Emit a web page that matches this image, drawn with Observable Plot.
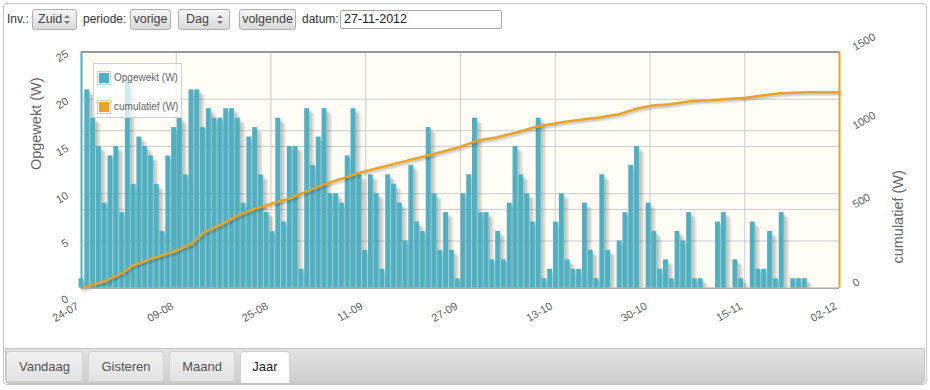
<!DOCTYPE html>
<html><head><meta charset="utf-8">
<script src="https://cdn.jsdelivr.net/npm/d3@7"></script>
<script src="https://cdn.jsdelivr.net/npm/@observablehq/plot@0.6"></script>
<style>
html,body{margin:0;padding:0;background:#fff;width:930px;height:390px;overflow:hidden;font-family:"Liberation Sans",Arial,sans-serif;}
#wrap{position:absolute;left:3px;top:3px;width:924px;height:382px;border:1px solid #c6c6c6;border-radius:4px;box-sizing:border-box;}
.lbl{position:absolute;top:11px;font-size:12px;color:#333;line-height:16px;white-space:nowrap;}
.btn{position:absolute;top:9px;height:21px;box-sizing:border-box;border:1px solid #b0b0b0;border-radius:3px;background:linear-gradient(#f7f7f7,#dadada);font-size:12.5px;color:#444;line-height:19px;text-align:center;white-space:nowrap;}
.sel{text-align:left;padding-left:5px;}
.arr{position:absolute;right:6px;top:5px;width:0;height:0;border-left:3px solid transparent;border-right:3px solid transparent;border-bottom:3px solid #777;}
.arr2{position:absolute;right:6px;top:11px;width:0;height:0;border-left:3px solid transparent;border-right:3px solid transparent;border-top:3px solid #777;}
.inp{position:absolute;top:10px;left:340px;width:162px;height:19px;box-sizing:border-box;border:1px solid #a8a8a8;border-radius:2px;background:#fff;font-size:12.5px;color:#222;line-height:17px;padding-left:3px;}
#chart{position:absolute;left:0;top:30px;}
#legend{position:absolute;left:93px;top:63px;width:89px;height:55px;box-sizing:border-box;border:1px solid #d0d0d0;background:rgba(255,255,255,0.72);}
.li{position:absolute;left:3px;height:14px;font-size:10px;color:#666;line-height:14px;white-space:nowrap;}
.sw{display:inline-block;vertical-align:top;width:10px;height:10px;border:1px solid #ccc;padding:1px;margin-right:3px;}
.sw div{width:10px;height:10px;}
#tabbar{position:absolute;left:5px;top:348px;width:920px;height:36px;box-sizing:border-box;border:1px solid #c4c4c4;border-radius:0 0 4px 4px;background:linear-gradient(#e2e2e2,#cdcdcd);}
.tab{position:absolute;top:2px;height:30px;box-sizing:border-box;border:1px solid #d2d2d2;border-bottom:none;border-radius:4px 4px 0 0;background:linear-gradient(#f0f0f0,#e2e2e2);font-size:13px;color:#555;text-align:center;line-height:29px;}
.tab.on{background:#fff;color:#222;height:32px;}
</style>
</head><body>
<div id="wrap"></div>
<div class="lbl" style="left:7px">Inv.:</div>
<div class="btn sel" style="left:32px;width:45px">Zuid<div class="arr"></div><div class="arr2"></div></div>
<div class="lbl" style="left:83px">periode:</div>
<div class="btn" style="left:130px;width:41px">vorige</div>
<div class="btn sel" style="left:178px;width:52px;padding-left:7px">Dag<div class="arr"></div><div class="arr2"></div></div>
<div class="btn" style="left:239px;width:57px">volgende</div>
<div class="lbl" style="left:302px">datum:</div>
<div class="inp">27-11-2012</div>
<div id="chart"></div>
<div id="legend">
  <div class="li" style="top:7px"><span class="sw"><div style="background:#4bb2c5"></div></span>Opgewekt (W)</div>
  <div class="li" style="top:36px"><span class="sw"><div style="background:#EAA228"></div></span>cumulatief (W)</div>
</div>
<div id="tabbar">
  <div class="tab" style="left:0px;width:77px">Vandaag</div>
  <div class="tab" style="left:82px;width:76px">Gisteren</div>
  <div class="tab" style="left:163px;width:66px">Maand</div>
  <div class="tab on" style="left:234px;width:50px">Jaar</div>
</div>
<script>
// ---- data ----
const startDate = "2012-07-24";
// daily "Opgewekt (W)" bars, one per day from 24-07
const dailyValues = [
  1,21,18,15,9,14,15,8,22,11,
  16,15,14,11,6,14,17,18,12,21,
  21,17,19,18,18,19,19,18,9,16,
  17,12,8,6,18,7,15,15,2,19,
  13,16,19,10,10,9,14,19,12,4,
  12,10,2,12,11,9,5,13,7,6,
  17,10,4,8,4,1,10,12,18,8,
  8,3,6,3,9,15,12,10,7,18,
  1,2,7,10,3,2,2,9,4,1,
  12,4,0,5,8,13,15,0,9,6,
  2,3,1,6,5,8,1,1,0,0,
  7,8,0,3,1,0,7,2,2,6,
  1,8,0,1,1,1
];
// cumulative line, sampled (day offset from start, value)
const cumDays = [0,4,7.5,8.5,12,16,19,21.2,24.1,27,29.8,32.7,35.6,38.5,41.4,43,48.2,53.9,59.7,64.8,68.3,71.7,75.2,78.6,83.3,86.9,89.5,92.9,96.1,98.3,101.6,105.6,108.7,114.8,120.7,125.3,131];
const cumValues = [0,44,106,138,186,232,281,355,404,461,503,535,566,608,651,672,735,788,841,890,936,957,989,1025,1056,1073,1084,1105,1141,1158,1168,1189,1194,1210,1238,1245,1245];
const xTickLabels = ["24-07","09-08","25-08","11-09","27-09","13-10","30-10","15-11","02-12"];
const leftTicks = [0,5,10,15,20,25];
const rightTicks = [0,500,1000,1500];
const spanDays = 131;

// ---- build ----
const DAY = 864e5, T0 = Date.parse(startDate + "T00:00:00Z");
const dt = d => new Date(T0 + d * DAY);
const ratio = 1500 / 25;
const bars = dailyValues.map((v, i) => ({i, v}));
const cum = cumDays.map((d, k) => ({date: dt(d), c: cumValues[k] / ratio}));
const xTicks = xTickLabels.map((label, k) => ({label, date: dt(k * spanDays / (xTickLabels.length - 1))}));
const half = 0.42;
const bx1 = d => dt(d.i - half), bx2 = d => dt(d.i + half);
const BLUE = "#4bb2c5", ORANGE = "#EAA228", TXT = "#5e5e5e";

const marks = [
  Plot.frame({fill: "#fffdf6"}),
  Plot.ruleY(leftTicks.slice(1, -1), {stroke: "#cccccc"}),
  Plot.ruleY(rightTicks.slice(1, -1), {y: d => d / ratio, stroke: "#cccccc"}),
  Plot.ruleX(xTicks.slice(1, -1), {x: "date", stroke: "#cccccc"}),
  ...[1,2,3,4].map(j => Plot.rectY(bars, {x1: bx1, x2: bx2, y1: 0, y2: "v", fill: "#000", fillOpacity: 0.07, dx: 1.4 * j, insetTop: 1.4 * j})),
  Plot.rectY(bars, {x1: bx1, x2: bx2, y1: 0, y2: "v", fill: BLUE}),
  ...[1,2,3].map(j => Plot.line(cum, {x: "date", y: "c", stroke: "#000", strokeOpacity: 0.08, strokeWidth: 2.5, dx: 0.9 * j, dy: 0.9 * j})),
  Plot.line(cum, {x: "date", y: "c", stroke: ORANGE, strokeWidth: 2.5}),
  Plot.ruleY([25], {stroke: "#999", strokeWidth: 2}),
  Plot.ruleY([0], {stroke: "#aaa", strokeWidth: 1.5}),
  Plot.ruleX([dt(0)], {stroke: BLUE, strokeWidth: 2}),
  Plot.ruleX([dt(spanDays)], {stroke: ORANGE, strokeWidth: 2}),
  // tick labels
  Plot.text(xTicks, {x: "date", frameAnchor: "bottom", text: "label", rotate: -30, textAnchor: "end", dx: -2, dy: 20, fill: TXT, fontSize: 11}),
  Plot.text(leftTicks.filter(v => v > 0), {y: d => d, frameAnchor: "left", text: d => String(d), rotate: -30, textAnchor: "end", dx: -14, dy: 1, fill: TXT, fontSize: 11}),
  Plot.text(leftTicks.filter(v => v === 0), {y: d => d, frameAnchor: "left", text: d => String(d), rotate: -30, textAnchor: "end", dx: -14, dy: 10, fill: TXT, fontSize: 11}),
  Plot.text(rightTicks, {y: d => d / ratio, frameAnchor: "right", text: d => String(d), rotate: -30, textAnchor: "start", dx: 14, dy: -4, fill: TXT, fontSize: 11}),
  Plot.text(["Opgewekt (W)"], {frameAnchor: "left", text: d => d, rotate: -90, dx: -45, fill: "#666", fontSize: 14.5}),
  Plot.text(["cumulatief (W)"], {frameAnchor: "right", text: d => d, rotate: -90, dx: 59, fill: "#666", fontSize: 14.5})
];

const chart = Plot.plot({
  width: 930,
  height: 320,
  marginLeft: 81,
  marginRight: 91,
  marginTop: 21.5,
  marginBottom: 62.3,
  style: {background: "transparent", fontFamily: "'Liberation Sans', Arial, sans-serif", overflow: "visible"},
  x: {type: "utc", domain: [dt(0), dt(spanDays)], axis: null},
  y: {domain: [0, 25], axis: null},
  marks
});
document.getElementById("chart").appendChild(chart);
</script>
</body></html>
